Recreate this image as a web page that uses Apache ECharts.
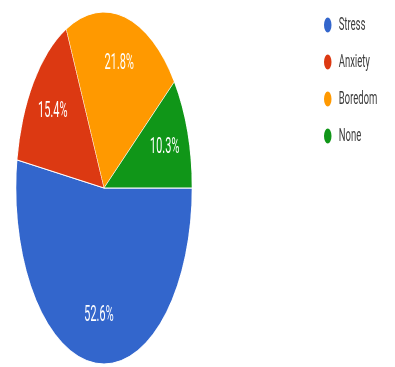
<!DOCTYPE html>
<html>
<head>
<meta charset="utf-8">
<script src="https://cdn.jsdelivr.net/npm/echarts@6/dist/echarts.min.js"></script>
<style>
  html, body { margin: 0; padding: 0; background: #fff; overflow: hidden; }
  /* the reference pie is squashed sideways, so draw wide and squeeze it */
  #wrap { width: 395px; height: 367px; overflow: hidden; }
  #chart { width: 790px; height: 367px; transform: scaleX(0.5); transform-origin: 0 0; }
</style>
</head>
<body>
<div id="wrap"><div id="chart"></div></div>
<script>
  // data
  const names = ['Stress', 'Anxiety', 'Boredom', 'None'];
  const percents = [52.6, 15.4, 21.8, 10.3];
  const colors = ['#3366cc', '#dc3912', '#ff9900', '#109618'];

  const pieData = names.map((n, i) => ({ name: n, value: percents[i] }));

  const chart = echarts.init(document.getElementById('chart'));
  const option = {
    animation: false,
    color: colors,
    legend: {
      orient: 'vertical',
      left: 641,
      top: 10,
      icon: 'circle',
      itemWidth: 18,
      itemHeight: 17,
      itemGap: 17,
      data: names,
      selectedMode: false,
      textStyle: {
        fontFamily: 'Roboto',
        fontSize: 19,
        color: '#3c3c3c',
        lineHeight: 20,
        padding: [0, 0, 0, 8]
      }
    },
    series: [
      {
        // the slices
        type: 'pie',
        center: [208, 188],
        radius: [0, 176],
        startAngle: 0,
        clockwise: true,
        silent: true,
        label: { show: false },
        labelLine: { show: false },
        itemStyle: { borderColor: '#fff', borderWidth: 1 },
        data: pieData
      },
      {
        // invisible ring, only there to put the labels further out
        type: 'pie',
        center: [208, 188],
        radius: [74, 176],
        startAngle: 0,
        clockwise: true,
        silent: true,
        itemStyle: { color: 'transparent' },
        labelLine: { show: false },
        label: {
          show: true,
          position: 'inside',
          formatter: p => p.value + '%',
          color: '#fff',
          fontFamily: 'Roboto',
          fontSize: 22
        },
        data: pieData
      }
    ]
  };
  chart.setOption(option);
</script>
</body>
</html>
